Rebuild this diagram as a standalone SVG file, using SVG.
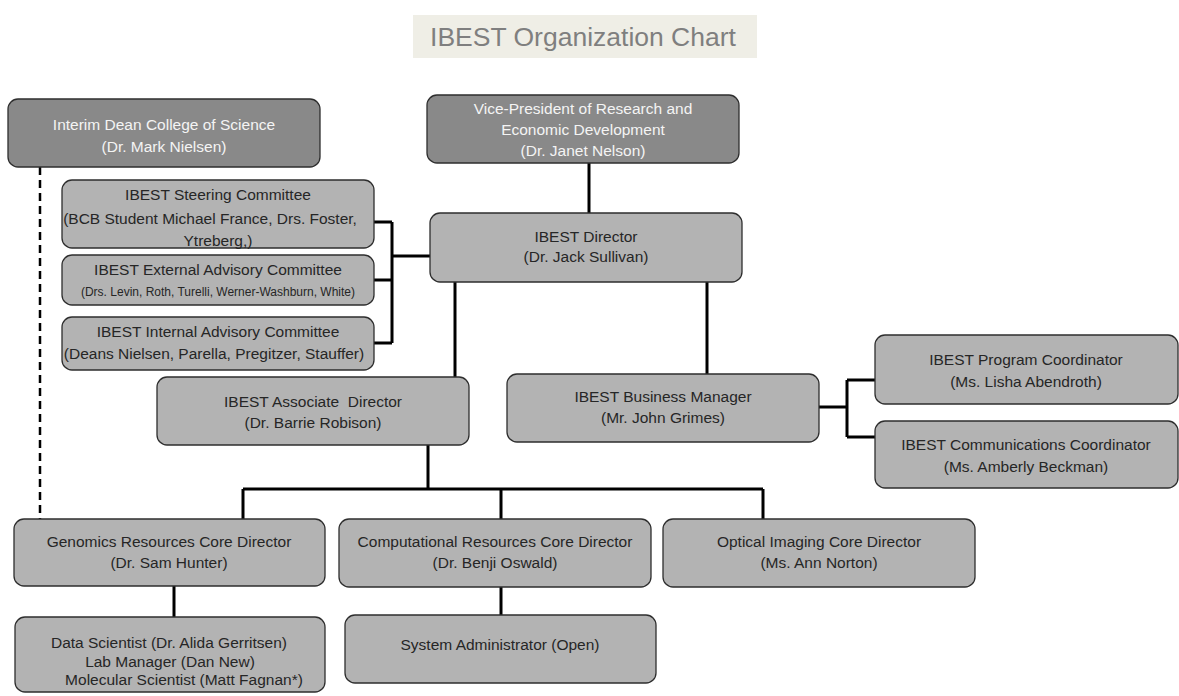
<svg xmlns="http://www.w3.org/2000/svg" width="1179" height="696" viewBox="0 0 1179 696">
<style>
text{font-family:"Liberation Sans",Arial,sans-serif;text-anchor:middle;}
.box{fill:#b3b3b3;stroke:#2e2e2e;stroke-width:1.3;}
.dark{fill:#898989;stroke:#2e2e2e;stroke-width:1.3;}
.t{font-size:15.5px;fill:#262626;}
.tw{font-size:15.5px;fill:#f4f4f4;}
.s{font-size:12px;fill:#262626;}
.c{fill:none;stroke:#000;stroke-width:3;}
.d{fill:none;stroke:#000;stroke-width:2.5;stroke-dasharray:8 5;}
</style>
<rect width="1179" height="696" fill="#fff"/>
<g id="title">
<rect x="413" y="15" width="344" height="43" fill="#efeee6"/>
<text x="583" y="46" style="font-size:26.5px;fill:#7f7f7f;">IBEST Organization Chart</text>
</g>
<g id="connectors">
<path class="c" d="M589 163V213"/>
<path class="c" d="M374 222H392M374 280H392M374 343H392M392 222V343M392 256H430"/>
<path class="c" d="M455 282V377"/>
<path class="c" d="M707 282V374"/>
<path class="c" d="M819 407H847M847 380V437M847 380H875M847 437H875"/>
<path class="c" d="M428 445V489M243 489H763M243 489V519M501 489V519M763 489V519"/>
<path class="c" d="M174 586V617"/>
<path class="c" d="M501 587V615"/>
<path class="d" d="M40 167V519"/>
</g>
<g id="dean">
<rect class="dark" x="8" y="99" width="312" height="68" rx="10"/>
<text class="tw" x="164" y="130">Interim Dean College of Science</text>
<text class="tw" x="164" y="152">(Dr. Mark Nielsen)</text>
</g>
<g id="vp">
<rect class="dark" x="427" y="95" width="312" height="68" rx="10"/>
<text class="tw" x="583" y="114">Vice-President of Research and</text>
<text class="tw" x="583" y="135">Economic Development</text>
<text class="tw" x="583" y="156">(Dr. Janet Nelson)</text>
</g>
<g id="director">
<rect class="box" x="430" y="213" width="312" height="69" rx="10"/>
<text class="t" x="586" y="242">IBEST Director</text>
<text class="t" x="586" y="262">(Dr. Jack Sullivan)</text>
</g>
<g id="steering">
<rect class="box" x="62" y="180" width="312" height="68" rx="10"/>
<text class="t" x="218" y="200">IBEST Steering Committee</text>
<text class="t" x="210" y="224">(BCB Student Michael France, Drs. Foster,</text>
<text class="t" x="218" y="246">Ytreberg,)</text>
</g>
<g id="external">
<rect class="box" x="62" y="255" width="312" height="50" rx="10"/>
<text class="t" x="218" y="275">IBEST External Advisory Committee</text>
<text class="s" x="218" y="296">(Drs. Levin, Roth, Turelli, Werner-Washburn, White)</text>
</g>
<g id="internal">
<rect class="box" x="62" y="317" width="312" height="53" rx="10"/>
<text class="t" x="218" y="337">IBEST Internal Advisory Committee</text>
<text class="t" x="214" y="359">(Deans Nielsen, Parella, Pregitzer, Stauffer)</text>
</g>
<g id="associate">
<rect class="box" x="157" y="377" width="312" height="68" rx="10"/>
<text class="t" x="313" y="407" xml:space="preserve">IBEST Associate  Director</text>
<text class="t" x="313" y="428">(Dr. Barrie Robison)</text>
</g>
<g id="business">
<rect class="box" x="507" y="374" width="312" height="68" rx="10"/>
<text class="t" x="663" y="402">IBEST Business Manager</text>
<text class="t" x="663" y="423">(Mr. John Grimes)</text>
</g>
<g id="program">
<rect class="box" x="875" y="335" width="303" height="69" rx="10"/>
<text class="t" x="1026" y="365">IBEST Program Coordinator</text>
<text class="t" x="1026" y="387">(Ms. Lisha Abendroth)</text>
</g>
<g id="comms">
<rect class="box" x="875" y="421" width="303" height="67" rx="10"/>
<text class="t" x="1026" y="450">IBEST Communications Coordinator</text>
<text class="t" x="1026" y="472">(Ms. Amberly Beckman)</text>
</g>
<g id="genomics">
<rect class="box" x="14" y="519" width="311" height="67" rx="10"/>
<text class="t" x="169" y="547">Genomics Resources Core Director</text>
<text class="t" x="169" y="568">(Dr. Sam Hunter)</text>
</g>
<g id="computational">
<rect class="box" x="339" y="519" width="312" height="68" rx="10"/>
<text class="t" x="495" y="547">Computational Resources Core Director</text>
<text class="t" x="495" y="568">(Dr. Benji Oswald)</text>
</g>
<g id="optical">
<rect class="box" x="663" y="519" width="312" height="68" rx="10"/>
<text class="t" x="819" y="547">Optical Imaging Core Director</text>
<text class="t" x="819" y="568">(Ms. Ann Norton)</text>
</g>
<g id="data">
<rect class="box" x="15" y="617" width="310" height="75" rx="10"/>
<text class="t" x="169" y="648">Data Scientist (Dr. Alida Gerritsen)</text>
<text class="t" x="170" y="667">Lab Manager (Dan New)</text>
<text class="t" x="184" y="685">Molecular Scientist (Matt Fagnan*)</text>
</g>
<g id="sysadmin">
<rect class="box" x="345" y="615" width="311" height="68" rx="10"/>
<text class="t" x="500" y="650">System Administrator (Open)</text>
</g>
</svg>
